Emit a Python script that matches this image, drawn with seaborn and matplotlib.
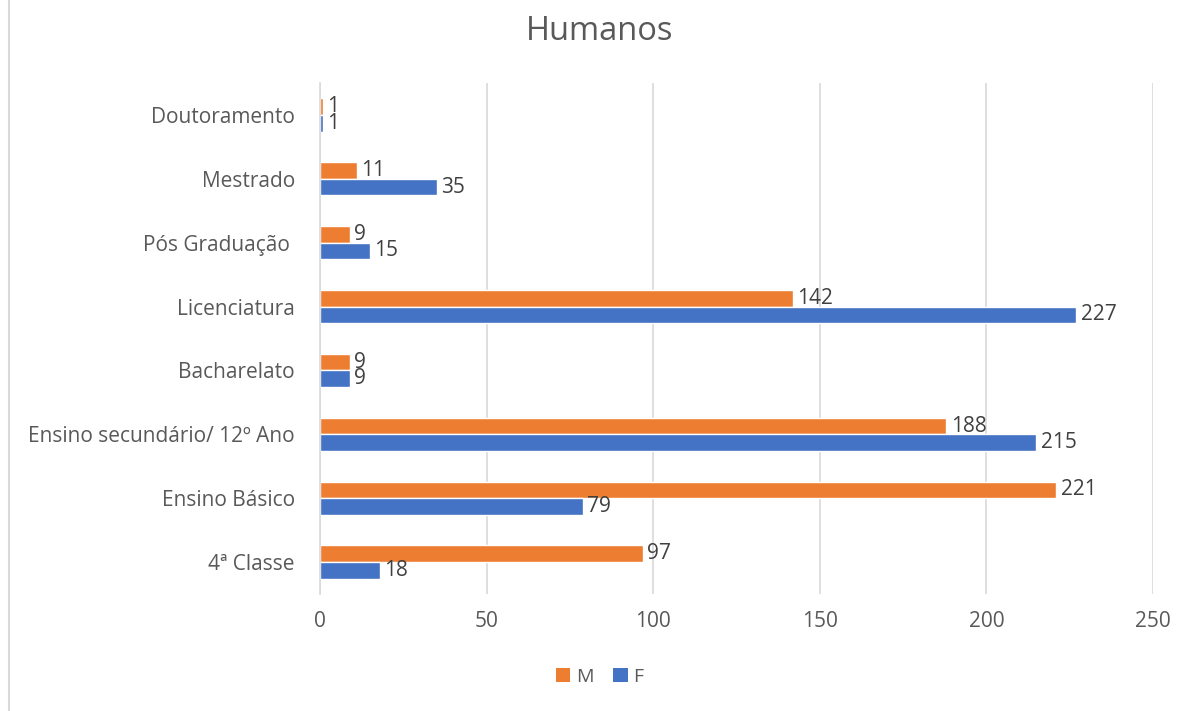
import matplotlib
matplotlib.use("Agg")
import matplotlib.pyplot as plt
import seaborn as sns
import pandas as pd
from matplotlib.lines import Line2D
from matplotlib.patches import Patch

categories = ["Doutoramento", "Mestrado", "Pós Graduação ", "Licenciatura", "Bacharelato",
              "Ensino secundário/ 12º Ano", "Ensino Básico", "4ª Classe"]
values_M = [1, 11, 9, 142, 9, 188, 221, 97]
values_F = [1, 35, 15, 227, 9, 215, 79, 18]
series = ["M", "F"]
xticks = [0, 50, 100, 150, 200, 250]

df = pd.DataFrame({
    "cat": categories * 2,
    "val": values_M + values_F,
    "sex": ["M"] * len(categories) + ["F"] * len(categories),
})

sns.set_theme(style="white")
plt.rcParams["font.family"] = ["Open Sans", "DejaVu Sans"]
text_color = "#595959"
colors = {"M": "#ED7D31", "F": "#4472C4"}

fig = plt.figure(figsize=(11.99, 7.11), dpi=100)
ax = fig.add_axes([320 / 1199, 1 - 594 / 711, (1153 - 320) / 1199, (594 - 83) / 711])

sns.barplot(data=df, y="cat", x="val", hue="sex", hue_order=series, order=categories,
            palette=colors, orient="h", width=0.52, ax=ax, legend=False, saturation=1)

ax.set_xlim(0, 250)
ax.set_xticks(xticks)
ax.set_xlabel("")
ax.set_ylabel("")
ax.grid(axis="x", color="#D9D9D9", linewidth=1.2)
ax.set_axisbelow(True)
for s in ["top", "right", "bottom"]:
    ax.spines[s].set_visible(False)
ax.spines["left"].set_color("#D9D9D9")
ax.spines["left"].set_linewidth(1.2)
ax.tick_params(axis="both", length=0, colors=text_color, labelsize=15)
ax.tick_params(axis="y", pad=18)
ax.tick_params(axis="x", pad=12)

for cont in ax.containers:
    ax.bar_label(cont, labels=[f"{int(v)}" for v in cont.datavalues], padding=3,
                 fontsize=15, color="#404040")

fig.text(0.5, 1 - 31 / 711, "Humanos", ha="center", va="center", fontsize=23.5, color=text_color)

handles = [Patch(facecolor=colors[s], edgecolor="none", label=s) for s in series]
fig.legend(handles=handles, loc="center", bbox_to_anchor=(0.5, 1 - 677 / 711), ncol=2,
           frameon=False, fontsize=14, labelcolor=text_color, handlelength=0.75,
           handleheight=0.75, handletextpad=0.3, columnspacing=1.0)

fig.add_artist(Line2D([9 / 1199, 9 / 1199], [0, 1], transform=fig.transFigure,
                      color="#D9D9D9", linewidth=1.5))

fig.savefig("out.png", dpi=100, facecolor="white")
